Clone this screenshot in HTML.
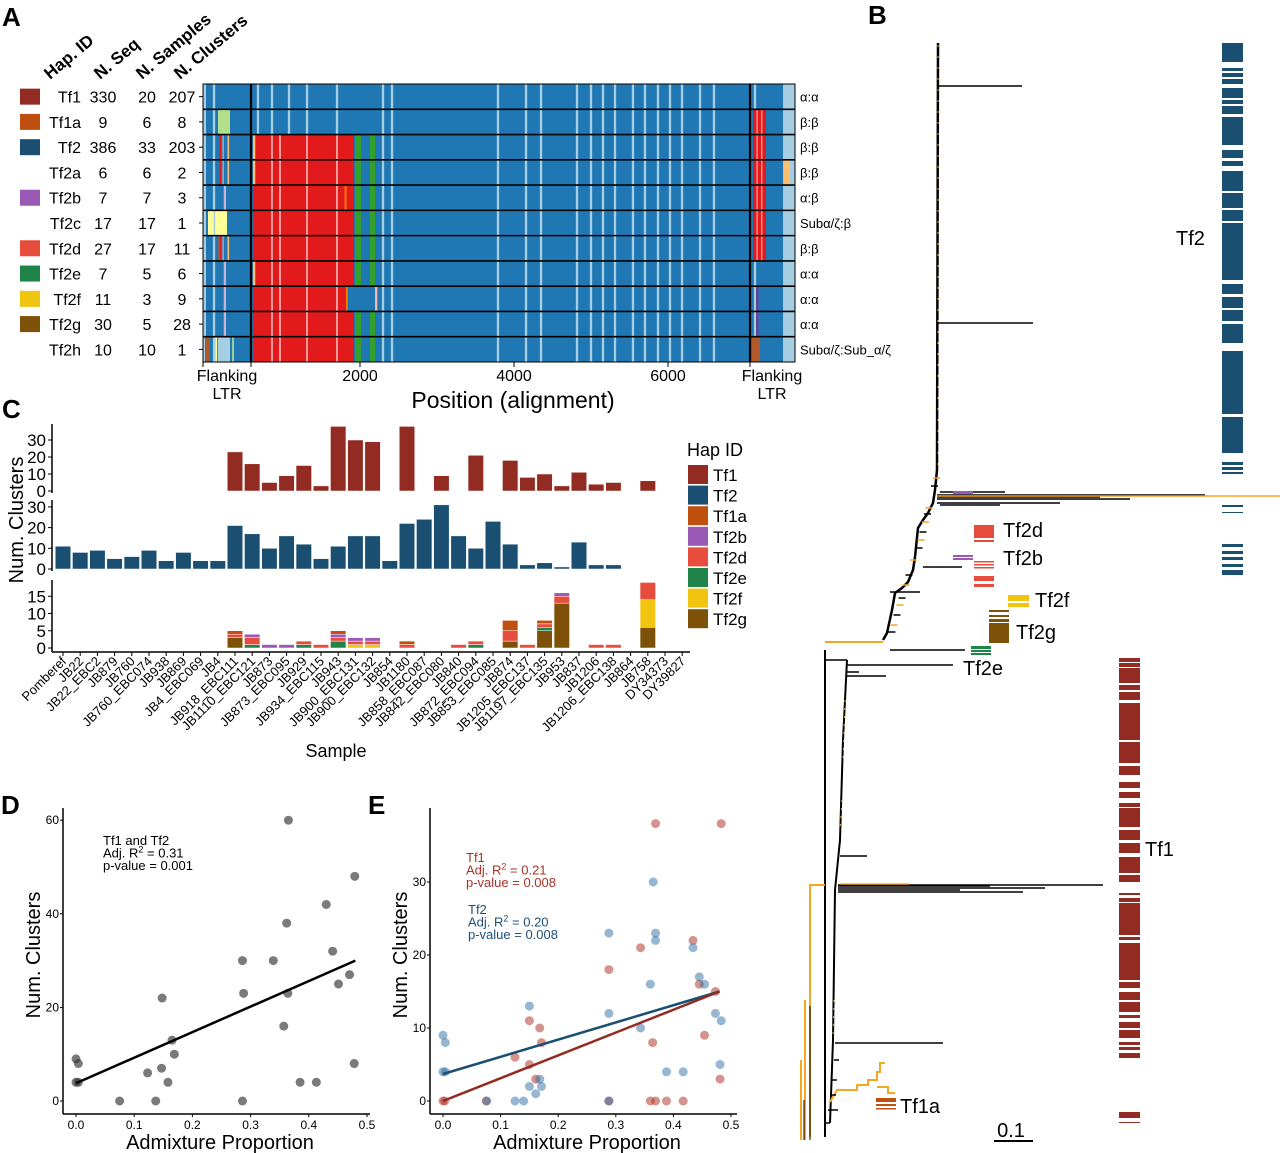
<!DOCTYPE html>
<html><head><meta charset="utf-8">
<style>
html,body{margin:0;padding:0;background:#fff;}
svg{display:block;font-family:"Liberation Sans",sans-serif;}
</style></head>
<body>
<svg id="fig" width="1280" height="1153" viewBox="0 0 1280 1153" xmlns="http://www.w3.org/2000/svg">
<g id="gA"></g>
<g id="gB"></g>
<g id="gC"></g>
<g id="gD"></g>
<g id="gE"></g>
</svg>
<script>
// ---------- DATA ----------
const hapIds = ["Tf1","Tf1a","Tf2","Tf2a","Tf2b","Tf2c","Tf2d","Tf2e","Tf2f","Tf2g","Tf2h"];
const nSeq = [330,9,386,6,7,17,27,7,11,30,10];
const nSamples = [20,6,33,6,7,17,17,5,3,5,10];
const nClusters = [207,8,203,2,3,1,11,6,9,28,1];
const rowLabels = ["α:α","β:β","β:β","β:β","α:β","Subα/ζ:β","β:β","α:α","α:α","α:α","Subα/ζ:Sub_α/ζ"];
const stripePos = [104,675,857,1078,1312,1701,2299,2416,3792,4156,4351,4818,5000,5156,5312,5545,5701,5870,6026,6182,6416,6597,7130];
const xTicksA = [2000,4000,6000];

const samples = ["Pomberef","JB22","JB22_EBC2","JB879","JB760","JB760_EBC074","JB938","JB869","JB4_EBC069","JB4","JB918_EBC111","JB1110_EBC121","JB873","JB873_EBC095","JB929","JB934_EBC115","JB943","JB900_EBC131","JB900_EBC132","JB854","JB1180","JB858_EBC087","JB842_EBC080","JB840","JB872_EBC094","JB853_EBC085","JB874","JB1205_EBC137","JB1197_EBC135","JB953","JB837","JB1206","JB1206_EBC138","JB864","JB758","DY34373","DY39827"];
const tf1Counts = [0,0,0,0,0,0,0,0,0,0,23,16,5,9,15,3,38,30,29,0,38,0,9,0,21,0,18,8,10,3,11,4,5,0,6,0,0];
const tf2Counts = [11,8,9,5,6,9,4,8,4,4,21,17,10,16,12,5,11,16,16,4,22,24,31,16,10,23,12,2,3,1,13,2,2,0,0,0,0];
const tf2gCounts = [0,0,0,0,0,0,0,0,0,0,3,0,0,0,0,0,0,0,0,0,0,0,0,0,0,0,2,0,5,13,0,0,0,0,6,0,0];
const tf2fCounts = [0,0,0,0,0,0,0,0,0,0,0,0,0,0,0,0,0,1,1,0,0,0,0,0,0,0,0,0,0,0,0,0,0,0,8,0,0];
const tf2eCounts = [0,0,0,0,0,0,0,0,0,0,0,1,0,0,1,0,2,0,0,0,0,0,0,0,1,0,0,0,1,0,0,0,0,0,0,0,0];
const tf2dCounts = [0,0,0,0,0,0,0,0,0,0,1,2,0,0,1,1,1,1,1,0,1,0,0,1,1,0,3,1,1,2,0,1,1,0,5,0,0];
const tf2bCounts = [0,0,0,0,0,0,0,0,0,0,0,1,1,1,0,0,1,1,1,0,0,0,0,0,0,0,0,0,0,1,0,0,0,0,0,0,0];
const tf1aCounts = [0,0,0,0,0,0,0,0,0,0,1,0,0,0,0,0,1,0,0,0,1,0,0,0,0,0,3,0,1,0,0,0,0,0,0,0,0];
const ticksTop = [0,10,20,30];
const ticksMid = [0,10,20,30];
const ticksBot = [0,5,10,15];

const dX = [0,0.004,0,0.004,0.075,0.123,0.137,0.147,0.148,0.158,0.165,0.169,0.286,0.288,0.286,0.339,0.357,0.362,0.364,0.365,0.385,0.413,0.43,0.441,0.451,0.47,0.479,0.478];
const dY = [9,8,4,4,0,6,0,7,22,4,13,10,30,23,0,30,16,38,23,60,4,4,42,32,25,27,48,8];
const dFit = [3.8,30];
const eTf1X = [0,0.003,0.075,0.125,0.15,0.15,0.161,0.168,0.171,0.288,0.288,0.343,0.364,0.36,0.369,0.369,0.388,0.417,0.434,0.445,0.454,0.473,0.481,0.483];
const eTf1Y = [0,0,0,6,11,5,3,10,8,18,0,21,8,0,38,0,0,0,22,16,9,15,3,38];
const eTf2X = [0,0.004,0,0.004,0.076,0.125,0.14,0.15,0.15,0.161,0.168,0.171,0.288,0.288,0.288,0.343,0.36,0.365,0.369,0.369,0.388,0.417,0.434,0.445,0.454,0.473,0.481,0.483];
const eTf2Y = [9,8,4,4,0,0,0,13,2,1,3,2,23,12,0,10,16,30,23,22,4,4,21,17,16,12,5,11];
const eTf1Fit = [0,15];
const eTf2Fit = [3.7,15];
const xTicksDE = [0,0.1,0.2,0.3,0.4,0.5];

const tf2BarSegs = [[43,62],[68,71],[73,77],[79,84],[88,98],[100,104],[106,114],[117,145],[150,158],[161,166],[171,191],[193,208],[210,221],[223,280],[284,294],[297,308],[310,321],[324,343],[351,414],[417,453],[462,465],[467,470],[472,474],[505,507],[512,513],[544,547],[551,554],[557,560],[564,567],[570,575]];
const tf1BarSegs = [[658,662],[663,667],[668,683],[685,690],[692,700],[703,740],[742,763],[766,775],[782,788],[792,798],[803,807],[808,827],[830,840],[843,853],[857,873],[875,882],[893,895],[898,902],[903,935],[937,940],[943,980],[982,988],[992,1000],[1002,1012],[1015,1018],[1022,1028],[1030,1038],[1042,1045],[1047,1050],[1053,1058],[1112,1118],[1122,1123]];

// ---------- HELPERS ----------
const NS="http://www.w3.org/2000/svg";
function mk(tag, attrs, parent){const e=document.createElementNS(NS,tag);for(const k in attrs)e.setAttribute(k,attrs[k]);parent.appendChild(e);return e;}
function txt(parent, x, y, s, size, opts){const o=Object.assign({x:x,y:y,'font-size':size},opts||{});const t=mk('text',o,parent);t.textContent=s;return t;}
const C={tf1:"#922b21",tf2:"#1b4f72",tf1a:"#c0500f",tf2b:"#9b59b6",tf2d:"#e74c3c",tf2e:"#1e8449",tf2f:"#f1c40f",tf2g:"#7e5109"};

// ---------- PANEL A ----------
const gA=document.getElementById('gA');
let t;
t=txt(gA,2,26,"A",26,{'font-weight':'bold'});


const heads=[["Hap. ID",50,80],["N. Seq",100,80],["N. Samples",142,80],["N. Clusters",180,80]];
heads.forEach(h=>{
  const e=txt(gA,h[1],h[2],h[0],17,{'font-weight':'bold',transform:`rotate(-40 ${h[1]} ${h[2]})`});
  
  
});
const swatchCols={Tf1:C.tf1,Tf1a:C.tf1a,Tf2:C.tf2,Tf2b:C.tf2b,Tf2d:C.tf2d,Tf2e:C.tf2e,Tf2f:C.tf2f,Tf2g:C.tf2g};
const rowH=(362-84)/11;
function rowY(r){return 84+r*rowH;}
hapIds.forEach((h,i)=>{
  const cy=rowY(i)+rowH/2;
  if(swatchCols[h]){
    const s=mk('rect',{x:20,y:cy-8,width:20,height:16,fill:swatchCols[h]},gA);
    
    
  }
  let e=txt(gA,81,cy+6,h,16,{'text-anchor':'end'});
  
  
  e=txt(gA,103,cy+6,String(nSeq[i]),16,{'text-anchor':'middle'});
  
  
  e=txt(gA,147,cy+6,String(nSamples[i]),16,{'text-anchor':'middle'});
  
  
  e=txt(gA,182,cy+6,String(nClusters[i]),16,{'text-anchor':'middle'});
  
  
  const tk=mk('line',{x1:199,x2:203,y1:cy,y2:cy,stroke:'#000','stroke-width':1},gA);
  
  
  e=txt(gA,800,cy+5,rowLabels[i],13);
  
  
});
function xA(u){return 206+u*0.077;}
const hm=mk('g',{},gA);


let bg=mk('rect',{x:203,y:84,width:592,height:278,fill:'#1f78b4'},hm);


function seg(r0,r1,u0,u1,col,name){
  const e=mk('rect',{x:xA(u0),y:rowY(r0),width:Math.max(1,xA(u1)-xA(u0)),height:rowY(r1+1)-rowY(r0),fill:col},hm);
  
  
}
seg(0,10,-39,0,'#a6cee3','left-edge');
seg(0,10,7494,7649,'#a6cee3','right-edge');
stripePos.forEach(p=>seg(0,10,p-15,p+15,'#a6cee3','variant-stripe'));
[2,3,4,5,6,7,9,10].forEach(r=>{
  seg(r,r,610,1922,'#e31a1c','red-block');
  seg(r,r,1935,2013,'#33a02c','green-block');
  seg(r,r,2130,2195,'#33a02c','green-block');
});
seg(8,8,610,1818,'#e31a1c','red-block');
seg(8,8,1818,1840,'#ff7f00','orange-line');
seg(8,8,2195,2225,'#fbb4ae','pink-line');
seg(4,4,1800,1825,'#ff7f00','orange-line');
[857,961,1312,1701].forEach(p=>{[2,3,4,5,6,7,8,9,10].forEach(r=>seg(r,r,p-12,p+12,'#f4a6a6','red-inner-stripe'));});
[2,3,7].forEach(r=>seg(r,r,610,640,'#fdbf6f','yellow-line'));
seg(1,1,156,312,'#b2df8a','light-green');
[2,3,6].forEach(r=>{seg(r,r,175,195,'#e31a1c','red-line');seg(r,r,215,230,'#f4a6a6','pink-line');seg(r,r,280,300,'#fdbf6f','yellow-line');});
seg(6,6,160,180,'#b15928','brown-line');
seg(5,5,26,273,'#ffff99','light-yellow');
seg(5,5,100,120,'#a6cee3','variant-stripe');
seg(10,10,-13,52,'#b15928','brown-block');
seg(10,10,120,145,'#ffff99','yellow-line');
seg(10,10,156,312,'#a6cee3','light-blue');
seg(10,10,340,362,'#b2df8a','green-line');
[4,7,8,9].forEach(r=>seg(r,r,230,260,'#cab2d6','lavender-line'));
[1,2,3,4,5,6].forEach(r=>{seg(r,r,7104,7273,'#e31a1c','red-right');seg(r,r,7150,7165,'#fbb4ae','pink-line');seg(r,r,7210,7225,'#fbb4ae','pink-line');});
[8,9].forEach(r=>seg(r,r,7145,7175,'#6a3d9a','purple-line'));
seg(10,10,7091,7195,'#b15928','brown-block');
seg(3,3,7506,7584,'#fdbf6f','orange-block');
for(let r=1;r<11;r++){
  const l=mk('line',{x1:203,x2:795,y1:rowY(r),y2:rowY(r),stroke:'#000','stroke-width':1.6},hm);
  
  
}
[251,750].forEach(x=>{
  const l=mk('line',{x1:x,x2:x,y1:84,y2:362,stroke:'#000','stroke-width':2.2},hm);
  
  
});
let fr=mk('rect',{x:203,y:84,width:592,height:278,fill:'none',stroke:'#000','stroke-width':1},hm);


[203,251,750].concat(xTicksA.map(xA)).forEach(x=>{
  const l=mk('line',{x1:x,x2:x,y1:362,y2:367,stroke:'#000'},gA);
  
  
});
xTicksA.forEach(v=>{
  const e=txt(gA,xA(v),381,String(v),16,{'text-anchor':'middle'});
  
  
});
[[227,"Flanking"],[772,"Flanking"]].forEach(a=>{
  let e=txt(gA,a[0],381,a[1],16,{'text-anchor':'middle'});
  
  
  e=txt(gA,a[0],399,"LTR",16,{'text-anchor':'middle'});
  
  
});
t=txt(gA,513,408,"Position (alignment)",23,{'text-anchor':'middle'});



// ---------- PANEL B (tree) ----------
const gB=document.getElementById('gB');
t=txt(gB,868,24,"B",26,{'font-weight':'bold'});


function path(d,col,w,name,extra){const p=mk('path',Object.assign({d:d,stroke:col,'stroke-width':w,fill:'none'},extra||{}),gB);return p;}
path("M938 43 L937 470 L935 490 L933 503 L928 513 L923 520 L918 528 L915 557 L913 570 L908 582 L902 588 L895 593 L892 610 L887 633 L883 640","#000",2.5,"tf2-trunk");
path("M938 86 H1022 M938 323 H1033 M937 495 H1205 M937 499 H1130 M937 503 H1060 M937 497 H1100 M940 505 H1000 M940 492 H1005 M923 567 H962 M890 592 H920 M890 650 H965","#000",1.5,"tf2-branches");
path("M937 496 H1280","#f5a623",1.5,"orange-long-branch");
path("M938 45 V470","#f5a623",1,"orange-ancestral",{'stroke-dasharray':'2 9'});
path("M883 642 H825","#f5a623",2,"orange-root-link");
const tipY=[478,486,508,514,522,532,540,548,560,575,585,598,605,615,625,632];
tipY.forEach((y,k)=>{
  const xx=y<560?935-(y-478)*0.25:912-(y-560)*0.3;
  path(`M${xx-2} ${y} h7`,k%2?'#000':'#f5a623',1.5,'tree-tip');
});
path("M825 650 V1137","#000",2,"tf1-outer-trunk");
path("M847 660 L843 740 L840 840 L835 890 L833 1040 L830 1123","#000",2,"tf1-trunk");
path("M825 660 H847 M825 1123 H830","#000",1.5,"tf1-link");
path("M847 665 H953 M847 672 H859 M846 676 H886 M840 856 H867 M838 885 H1103 M838 888 H1045 M838 892 H1023 M838 886 H990 M838 890 H960 M835 1043 H943","#000",1.5,"tf1-branches");
path("M840 884 H909","#f5a623",1.5,"tf1-orange");
path("M845 700 L843 760 M842 800 L840 830 M834 1000 L833 1040","#f5a623",1,"tf1-orange-dots",{'stroke-dasharray':'2 6'});
path("M825 885 H810 V1137 M805 1000 V1140 M801 1060 V1140","#f5a623",2,"orange-outer");
path("M810 1006 V1140 M804 1100 V1140","#000",1,"black-outer");
path("M830 1102 L837 1090 H857 V1085 H868 V1080 H877 V1072 H880 V1063 H885 M877 1087 H888 V1093 H895","#f5a623",2,"tf1a-clade");
path("M828 1110 h10 M830 1095 h6 M832 1080 h5 M834 1060 h5","#000",1.5,"tf1a-tips");
function box(x,y,w,h,col,name){const r=mk('rect',{x:x,y:y,width:w,height:h,fill:col},gB);}
box(953,491,20,3,C.tf2b,'tf2b-marker');
box(974,525,20,13,C.tf2d,'tf2d-box');box(974,540,20,2,C.tf2d,'tf2d-box');
box(953,555,20,2,C.tf2b,'tf2b-box');box(953,558,20,2,C.tf2b,'tf2b-box');
box(974,561,20,1.5,C.tf2d,'tf2d-line');box(974,564,20,1.5,C.tf2d,'tf2d-line');box(974,567,20,1.5,C.tf2d,'tf2d-line');
box(974,576,20,5,C.tf2d,'tf2d-line');box(974,584,20,3,C.tf2d,'tf2d-line');
box(1008,595,21,6,C.tf2f,'tf2f-box');box(1008,603,21,4,C.tf2f,'tf2f-box');
box(989,610,20,2,C.tf2g,'tf2g-line');box(989,615,20,2,C.tf2g,'tf2g-line');box(989,619,20,3,C.tf2g,'tf2g-line');box(989,623,20,20,C.tf2g,'tf2g-box');
box(971,646,20,3,C.tf2e,'tf2e-box');box(971,650,20,2,C.tf2e,'tf2e-box');box(971,653,20,2,C.tf2e,'tf2e-box');
box(876,1098,20,4,C.tf1a,'tf1a-box');box(876,1104,20,2,C.tf1a,'tf1a-box');box(876,1108,20,1.5,C.tf1a,'tf1a-box');
tf2BarSegs.forEach(s=>box(1222,s[0],21,s[1]-s[0],C.tf2,'tf2-bar-segment'));
tf1BarSegs.forEach(s=>box(1119,s[0],21,s[1]-s[0],C.tf1,'tf1-bar-segment'));
[["Tf2d",1003,537],["Tf2b",1003,565],["Tf2f",1035,607],["Tf2g",1016,639],["Tf2e",963,675],["Tf1a",900,1113],["Tf2",1176,245],["Tf1",1145,856]].forEach(a=>{
  const e=txt(gB,a[1],a[2],a[0],20);
  
  
});
path("M994 1141 H1033","#000",2,"scale-bar");
t=txt(gB,1011,1137,"0.1",20,{'text-anchor':'middle'});



// ---------- PANEL C ----------
const gC=document.getElementById('gC');
t=txt(gC,2,418,"C",26,{'font-weight':'bold'});


function xC(i){return 63+i*17.2;}
const yTop=v=>491-v*1.7, yMid=v=>569-v*2.07, yBot=v=>648-v*3.45;
const bw=15.5;
function bar(i,y0,y1,col,name){
  if(Math.abs(y0-y1)<0.01)return;
  const r=mk('rect',{x:xC(i)-bw/2,y:Math.min(y0,y1),width:bw,height:Math.abs(y1-y0),fill:col,stroke:'#fff','stroke-width':0.5},gC);
  
  
}
samples.forEach((s,i)=>{
  if(tf1Counts[i]>0)bar(i,yTop(0),yTop(tf1Counts[i]),C.tf1,'bar-tf1');
  if(tf2Counts[i]>0)bar(i,yMid(0),yMid(tf2Counts[i]),C.tf2,'bar-tf2');
  let acc=0;
  [[tf2gCounts,C.tf2g,'bar-tf2g'],[tf2fCounts,C.tf2f,'bar-tf2f'],[tf2eCounts,C.tf2e,'bar-tf2e'],[tf2dCounts,C.tf2d,'bar-tf2d'],[tf2bCounts,C.tf2b,'bar-tf2b'],[tf1aCounts,C.tf1a,'bar-tf1a']].forEach(a=>{
    const v=a[0][i];
    if(v>0){bar(i,yBot(acc),yBot(acc+v),a[1],a[2]);acc+=v;}
  });
  const tk=mk('line',{x1:xC(i),x2:xC(i),y1:652,y2:656,stroke:'#000'},gC);
  
  
  const lx=xC(i)+4, ly=662;
  const e=txt(gC,lx,ly,s,13,{'text-anchor':'end',transform:`rotate(-45 ${lx} ${ly})`});
  
  
});
function yaxis(g,x,y0,y1,ticks,fy,name){
  const l=mk('line',{x1:x,x2:x,y1:y0,y2:y1,stroke:'#000','stroke-width':1.5},g);
  
  
  ticks.forEach(v=>{
    const tk=mk('line',{x1:x-4,x2:x,y1:fy(v),y2:fy(v),stroke:'#000'},g);
    
    
    const e=txt(g,x-6,fy(v)+6,String(v),17,{'text-anchor':'end'});
    
    
  });
}
yaxis(gC,52,424,493,ticksTop,yTop,'y-axis-tf1');
yaxis(gC,52,500,571,ticksMid,yMid,'y-axis-tf2');
yaxis(gC,52,580,652,ticksBot,yBot,'y-axis-other');
let xl=mk('line',{x1:52,x2:690,y1:652,y2:652,stroke:'#000','stroke-width':1.5},gC);


t=txt(gC,336,757,"Sample",18,{'text-anchor':'middle'});


t=txt(gC,23,520,"Num. Clusters",20,{'text-anchor':'middle',transform:'rotate(-90 23 520)'});


t=txt(gC,687,456,"Hap ID",18);


[["Tf1",C.tf1],["Tf2",C.tf2],["Tf1a",C.tf1a],["Tf2b",C.tf2b],["Tf2d",C.tf2d],["Tf2e",C.tf2e],["Tf2f",C.tf2f],["Tf2g",C.tf2g]].forEach((a,i)=>{
  const y=465+i*20.6;
  const r=mk('rect',{x:688,y:y,width:20,height:19,fill:a[1]},gC);
  
  
  const e=txt(gC,713,y+16,a[0],17);
  
  
});

// ---------- PANEL D & E ----------
function scatterAxes(g,x0,yTicks,fx,fy,label){
  const ya=mk('line',{x1:x0,x2:x0,y1:808,y2:1114,stroke:'#000','stroke-width':1.5},g);
  
  
  const xa=mk('line',{x1:x0,x2:x0+307,y1:1114,y2:1114,stroke:'#000','stroke-width':1.5},g);
  
  
  yTicks.forEach(v=>{
    const tk=mk('line',{x1:x0-3,x2:x0,y1:fy(v),y2:fy(v),stroke:'#000'},g);
    
    
    const e=txt(g,x0-4,fy(v)+4,String(v),12,{'text-anchor':'end'});
    
    
  });
  xTicksDE.forEach(v=>{
    const tk=mk('line',{x1:fx(v),x2:fx(v),y1:1114,y2:1117,stroke:'#000'},g);
    
    
    const e=txt(g,fx(v),1129,v.toFixed(1),12,{'text-anchor':'middle'});
    
    
  });
  let e=txt(g,x0+157,1149,"Admixture Proportion",20,{'text-anchor':'middle'});
  
  
  const ty=955, tx=x0-23;
  e=txt(g,tx,ty,"Num. Clusters",20,{'text-anchor':'middle',transform:`rotate(-90 ${tx} ${ty})`});
  
  
  e=txt(g,x0-62,814,label,26,{'font-weight':'bold'});
  
  
}
const gD=document.getElementById('gD');
const fxD=v=>76+v*582, fyD=v=>1101-v*4.68;
scatterAxes(gD,63,[0,20,40,60],fxD,fyD,"D");
dX.forEach((x,i)=>{
  const c=mk('circle',{cx:fxD(x),cy:fyD(dY[i]),r:4.5,fill:'#333','fill-opacity':0.65},gD);
  
  
});
let fl=mk('line',{x1:fxD(0),y1:fyD(dFit[0]),x2:fxD(0.48),y2:fyD(dFit[1]),stroke:'#000','stroke-width':2.5},gD);


function statBlock(g,x,y,lines,col,name){
  lines.forEach((s,i)=>{
    const e=mk('text',{x:x,y:y+i*12.5,'font-size':13,fill:col},g);
    
    
    if(s.indexOf('R2')>=0){
      const p=s.split('R2');
      e.appendChild(document.createTextNode(p[0]+'R'));
      const sup=mk('tspan',{dy:-5,'font-size':9},e);sup.textContent='2';
      const rest=mk('tspan',{dy:5},e);rest.textContent=p[1];
    } else e.textContent=s;
  });
}
statBlock(gD,103,845,["Tf1 and Tf2","Adj. R2 = 0.31","p-value = 0.001"],'#000','stat-text-d');

const gE=document.getElementById('gE');
const fxE=v=>443+v*576, fyE=v=>1101-v*7.3;
scatterAxes(gE,430,[0,10,20,30],fxE,fyE,"E");
eTf1X.forEach((x,i)=>{
  const c=mk('circle',{cx:fxE(x),cy:fyE(eTf1Y[i]),r:4.5,fill:'#b03a2e','fill-opacity':0.55},gE);
  
  
});
eTf2X.forEach((x,i)=>{
  const c=mk('circle',{cx:fxE(x),cy:fyE(eTf2Y[i]),r:4.5,fill:'#2e6da4','fill-opacity':0.5},gE);
  
  
});
fl=mk('line',{x1:fxE(0),y1:fyE(eTf2Fit[0]),x2:fxE(0.48),y2:fyE(eTf2Fit[1]),stroke:'#1b4f72','stroke-width':2.5},gE);


fl=mk('line',{x1:fxE(0),y1:fyE(eTf1Fit[0]),x2:fxE(0.48),y2:fyE(eTf1Fit[1]),stroke:'#922b21','stroke-width':2.5},gE);


statBlock(gE,466,862,["Tf1","Adj. R2 = 0.21","p-value = 0.008"],'#a93226','stat-text-tf1');
statBlock(gE,468,914,["Tf2","Adj. R2 = 0.20","p-value = 0.008"],'#1f4e79','stat-text-tf2');
</script>
</body></html>
